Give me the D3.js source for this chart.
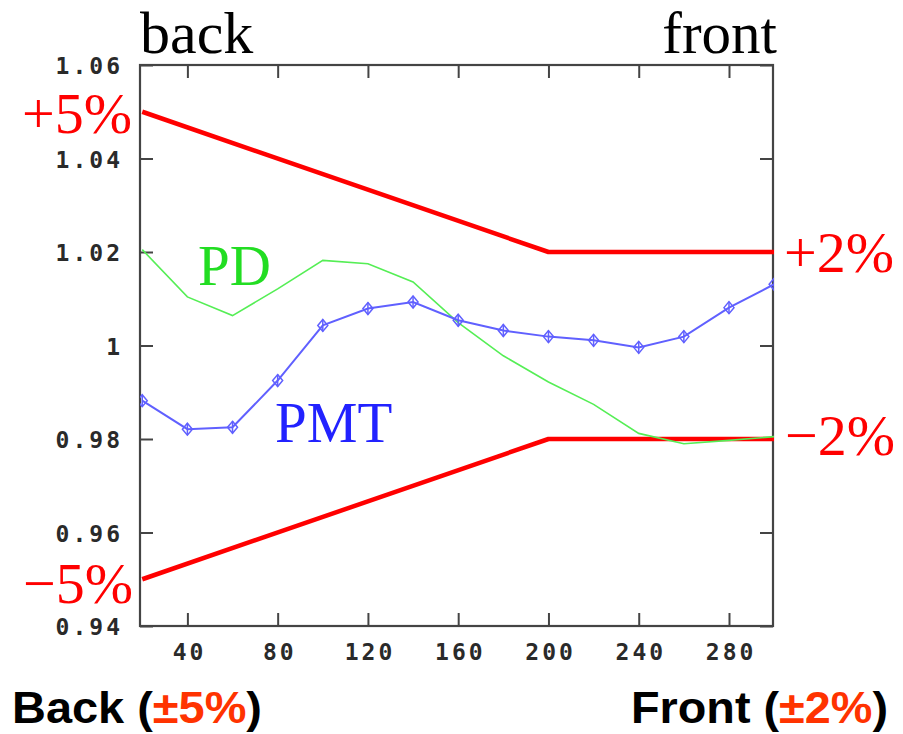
<!DOCTYPE html>
<html>
<head>
<meta charset="utf-8">
<script src="https://cdn.jsdelivr.net/npm/d3@7"></script>
<style>
  html, body { margin: 0; padding: 0; background: #fff; }
  svg { display: block; }
  .tick text { font-family: "DejaVu Sans Mono", monospace; font-size: 23px; font-weight: bold; fill: #2a2a2a; letter-spacing: 3px; }
  .serif { font-family: "Liberation Serif", "Times New Roman", serif; }
  .sans { font-family: "Liberation Sans", Arial, sans-serif; font-weight: bold; }
</style>
</head>
<body>
<svg id="chart" width="903" height="734"></svg>
<script>
// Position along the detector (x) and relative response
const positions = [20, 40, 60, 80, 100, 120, 140, 160, 180, 200, 220, 240, 260, 280, 300];
const pmtValues = [0.9882, 0.9821, 0.9825, 0.9925, 1.0043, 1.0079, 1.0093, 1.0054, 1.0032, 1.0019, 1.0011, 0.9996, 1.0019, 1.0081, 1.0131];
const pdValues  = [1.0205, 1.0104, 1.0064, 1.0121, 1.0182, 1.0175, 1.0136, 1.0049, 0.9978, 0.9922, 0.9874, 0.9812, 0.9790, 0.9797, 0.9805];

// Tolerance band: ±5% at the back, tapering to ±2% at the front
const limitX = [20, 200, 300];
const upperLimit = [1.05, 1.02, 1.02];
const lowerLimit = [0.95, 0.98, 0.98];

const xTicks = [40, 80, 120, 160, 200, 240, 280];
const yTicks = [0.94, 0.96, 0.98, 1.00, 1.02, 1.04, 1.06];
const yTickLabels = ["0.94", "0.96", "0.98", "1", "1.02", "1.04", "1.06"];

const svg = d3.select("#chart");
const plot = { left: 140, right: 773, top: 65, bottom: 626 };

const x = d3.scaleLinear().domain([19, 299.5]).range([plot.left, plot.right]);
const y = d3.scaleLinear().domain([0.94, 1.06]).range([plot.bottom, plot.top]);

svg.append("clipPath").attr("id", "plotclip")
  .append("rect")
  .attr("x", plot.left).attr("y", plot.top - 10)
  .attr("width", plot.right - plot.left + 1).attr("height", plot.bottom - plot.top + 20);

// Axes with inward ticks on all four sides
const tickLen = 13;
const axisColor = "#444";

const leftAxis = svg.append("g").attr("transform", `translate(${plot.left},0)`)
  .call(d3.axisLeft(y).tickValues(yTicks).tickSize(-tickLen).tickPadding(17)
    .tickFormat((d, i) => yTickLabels[i]));
leftAxis.selectAll("text").attr("dy", "0.38em");

svg.append("g").attr("transform", `translate(${plot.right},0)`)
  .call(d3.axisRight(y).tickValues(yTicks).tickSize(-tickLen).tickFormat(""));

svg.append("g").attr("transform", `translate(0,${plot.top})`)
  .call(d3.axisTop(x).tickValues(xTicks).tickSize(-tickLen).tickFormat(""));

const bottomAxis = svg.append("g").attr("transform", `translate(0,${plot.bottom})`)
  .call(d3.axisBottom(x).tickValues(xTicks).tickSize(-tickLen).tickPadding(18).tickFormat(d3.format("d")));
bottomAxis.selectAll("text").attr("dx", "0.07em");

svg.selectAll(".domain").remove();
svg.selectAll(".tick line").attr("stroke", axisColor).attr("stroke-width", 2);

svg.append("rect")
  .attr("x", plot.left).attr("y", plot.top)
  .attr("width", plot.right - plot.left).attr("height", plot.bottom - plot.top)
  .attr("fill", "none").attr("stroke", axisColor).attr("stroke-width", 2.2);

const g = svg.append("g").attr("clip-path", "url(#plotclip)");

// Tolerance limits
const limitLine = vals => d3.line().x((d, i) => x(limitX[i])).y((d) => y(d))(vals);
[upperLimit, lowerLimit].forEach(vals => {
  g.append("path").attr("d", limitLine(vals))
    .attr("fill", "none").attr("stroke", "#ff0000").attr("stroke-width", 4.5)
    .attr("stroke-linejoin", "round");
});

// PD response
g.append("path")
  .attr("d", d3.line().x((d, i) => x(positions[i])).y(d => y(d))(pdValues))
  .attr("fill", "none").attr("stroke", "#55ee55").attr("stroke-width", 1.6);

// PMT response with diamond markers
const pmtColor = "#6060ff";
g.append("path")
  .attr("d", d3.line().x((d, i) => x(positions[i])).y(d => y(d))(pmtValues))
  .attr("fill", "none").attr("stroke", pmtColor).attr("stroke-width", 2);

const markers = g.append("g").selectAll("g").data(pmtValues).join("g")
  .attr("transform", (d, i) => `translate(${x(positions[i])},${y(d)})`);
markers.append("path")
  .attr("d", "M0,-6L5,0L0,6L-5,0Z")
  .attr("fill", "none").attr("stroke", pmtColor).attr("stroke-width", 1.5);
markers.append("line")
  .attr("x1", 0).attr("x2", 0).attr("y1", -6).attr("y2", 6)
  .attr("stroke", pmtColor).attr("stroke-width", 1.5);

// Annotations
const red = "#ff0000";
const addText = (txt, tx, ty, opts) => svg.append("text").text(txt).attr("x", tx).attr("y", ty)
  .attr("class", opts.cls || "serif")
  .attr("font-size", opts.size)
  .attr("fill", opts.fill || "#000")
  .attr("text-anchor", opts.anchor || "start");

addText("back", 140, 53, { size: 60 });
addText("front", 777, 53, { size: 59, anchor: "end" });

addText("+5%", 132, 133, { size: 58, fill: red, anchor: "end" });
addText("\u22125%", 133, 603, { size: 58, fill: red, anchor: "end" });
addText("+2%", 784, 272, { size: 58, fill: red });
addText("\u22122%", 785, 455, { size: 58, fill: red });

addText("PD", 198, 285, { size: 57, fill: "#22dd22" });
addText("PMT", 275, 442, { size: 57, fill: "#2222ff" });

// Footer captions
const orange = "#ff3300";
const back = svg.append("text").attr("class", "sans").attr("x", 12).attr("y", 723)
  .attr("font-size", 44).attr("textLength", 250).attr("lengthAdjust", "spacingAndGlyphs");
back.append("tspan").text("Back (").attr("fill", "#000");
back.append("tspan").text("\u00b15%").attr("fill", orange);
back.append("tspan").text(")").attr("fill", "#000");

const front = svg.append("text").attr("class", "sans").attr("x", 631).attr("y", 723)
  .attr("font-size", 44).attr("textLength", 257).attr("lengthAdjust", "spacingAndGlyphs");
front.append("tspan").text("Front (").attr("fill", "#000");
front.append("tspan").text("\u00b12%").attr("fill", orange);
front.append("tspan").text(")").attr("fill", "#000");
</script>
</body>
</html>
